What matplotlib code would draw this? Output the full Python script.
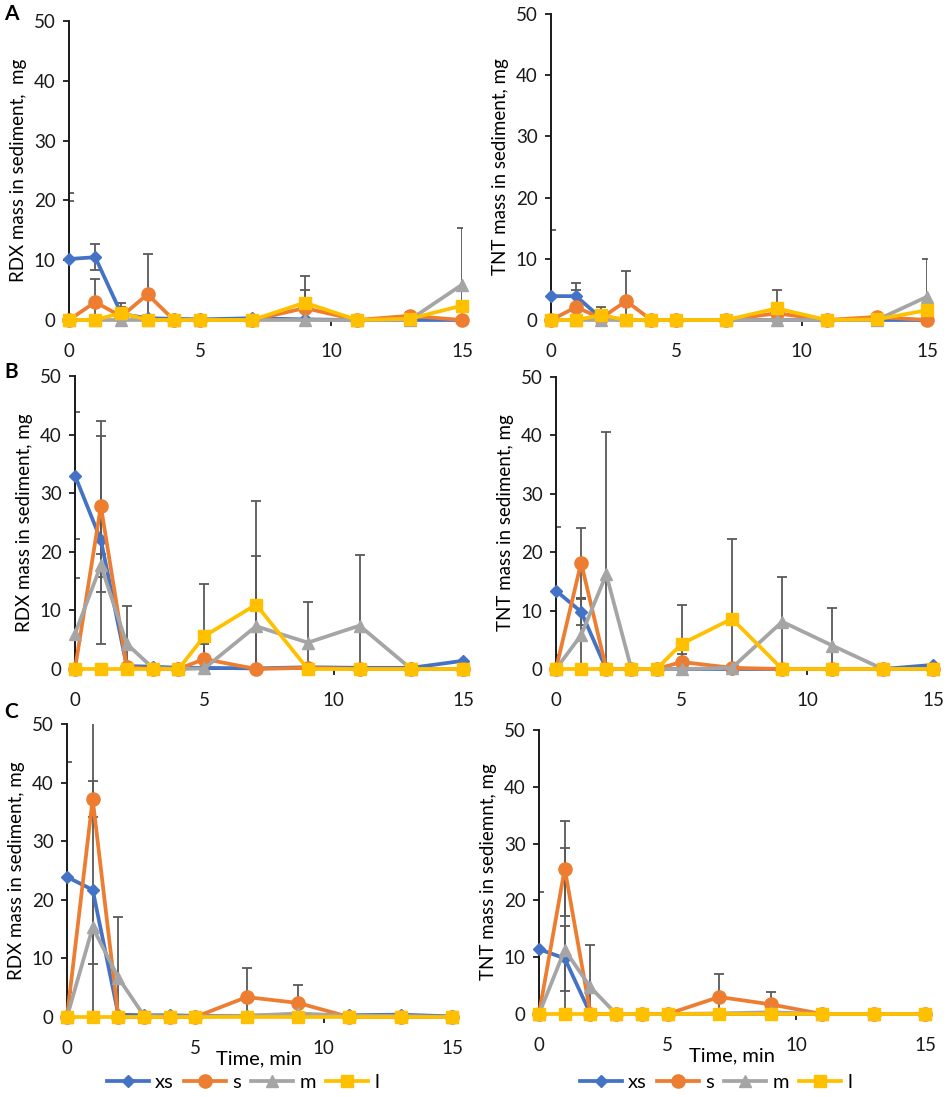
'''
Sediment mass plot

Six panels (A, B, C rows; RDX left, TNT right) with the explosive mass found
in the sediment over time for the four particle size classes xs, s, m and l.
'''

# -----------------------------------------------------------------------------
# Modules

from matplotlib import pyplot as plt
from matplotlib.lines import Line2D

# -----------------------------------------------------------------------------
# Data

time_min = [0, 1, 2, 3, 4, 5, 7, 9, 11, 13, 15]
zeros = [0] * 11

# Row A
a_rdx_xs = [10.2, 10.5, 1.0, 0.3, 0.2, 0.1, 0.3, 0.1, 0.0, 0.0, 0.0]
a_rdx_xs_err = [11.0, 2.2, 1.2, 0, 0, 0, 0.5, 0, 0, 0, 0]
a_rdx_s = [0, 3.0, 0.6, 4.3, 0, 0, 0, 2.0, 0, 0.7, 0]
a_rdx_s_err = [19.9, 3.9, 0, 6.7, 0, 0, 0, 3.0, 0, 0.6, 0]
a_rdx_m = [0, 0, 0, 0, 0, 0, 0, 0, 0, 0, 5.9]
a_rdx_m_err = [0, 0, 0, 0, 0, 0, 0, 0, 0, 0, 9.5]
a_rdx_l = [0, 0, 1.2, 0, 0, 0, 0, 2.9, 0, 0.2, 2.4]
a_rdx_l_err = [0, 0, 1.6, 0, 0, 0, 0, 4.4, 0, 0, 0]

a_tnt_xs = [3.9, 3.9, 0.3, 0, 0, 0, 0, 0, 0, 0, 0]
a_tnt_xs_err = [10.8, 2.1, 0, 0, 0, 0, 0, 0, 0, 0, 0]
a_tnt_s = [0, 2.1, 0.3, 3.1, 0, 0, 0, 1.1, 0, 0.5, 0]
a_tnt_s_err = [0, 2.8, 0, 4.9, 0, 0, 0, 0, 0, 0, 0]
a_tnt_m = [0, 0, 0, 0, 0, 0, 0, 0, 0, 0, 3.8]
a_tnt_m_err = [0, 0, 0, 0, 0, 0, 0, 0, 0, 0, 6.1]
a_tnt_l = [0, 0, 0.8, 0, 0, 0, 0, 1.9, 0, 0.1, 1.6]
a_tnt_l_err = [0, 0, 1.3, 0, 0, 0, 0, 3.0, 0, 0, 0]

# Row B
b_rdx_xs = [33.0, 22.0, 0.5, 0.4, 0.2, 0.2, 0.1, 0.3, 0.2, 0.2, 1.4]
b_rdx_xs_err = [10.9, 17.7, 0, 0, 0, 0, 0, 0, 0, 0, 0]
b_rdx_s = [0, 27.8, 0.3, 0, 0, 1.7, 0, 0.2, 0, 0, 0]
b_rdx_s_err = [0, 14.6, 0, 0, 0, 2.5, 0, 0, 0, 0, 0]
b_rdx_m = [6.0, 17.7, 4.3, 0.2, 0, 0.1, 7.3, 4.5, 7.4, 0, 0]
b_rdx_m_err = [9.5, 2.0, 6.5, 0.5, 0, 0, 11.9, 6.9, 12.0, 0, 0]
b_rdx_l = [0, 0, 0, 0, 0, 5.6, 11.0, 0, 0, 0, 0]
b_rdx_l_err = [0, 0, 0, 0, 0, 8.9, 17.6, 0, 0, 0, 0]

b_tnt_xs = [13.4, 9.8, 0, 0, 0, 0, 0, 0, 0, 0, 0.7]
b_tnt_xs_err = [11.0, 2.2, 0, 0, 0, 0, 0, 0, 0, 0, 0]
b_tnt_s = [0, 18.2, 0, 0, 0, 1.2, 0.2, 0, 0, 0, 0]
b_tnt_s_err = [0, 6.0, 0, 0, 0, 1.4, 0, 0, 0, 0, 0]
b_tnt_m = [0, 5.8, 16.2, 0, 0, 0, 0.2, 8.1, 4.0, 0, 0]
b_tnt_m_err = [0, 6.3, 24.4, 0, 0, 0, 0, 7.6, 6.4, 0, 0]
b_tnt_l = [0, 0, 0, 0, 0, 4.3, 8.6, 0, 0, 0, 0]
b_tnt_l_err = [0, 0, 0, 0, 0, 6.7, 13.7, 0, 0, 0, 0]

# Row C
c_rdx_xs = [23.9, 21.7, 0.4, 0.3, 0.3, 0.2, 0.2, 0.4, 0.3, 0.4, 0.1]
c_rdx_xs_err = [19.7, 29.0, 0, 0, 0, 0, 0, 0, 0, 0, 0]
c_rdx_s = [0, 37.2, 0, 0, 0, 0, 3.4, 2.4, 0, 0, 0]
c_rdx_s_err = [0, 3.1, 0, 0, 0, 0, 4.9, 3.1, 0, 0, 0]
c_rdx_m = [0, 15.3, 6.7, 0.2, 0.1, 0.1, 0.2, 0.6, 0.2, 0.2, 0]
c_rdx_m_err = [0, 6.3, 10.3, 0, 0, 0, 0, 0, 0, 0, 0]
c_rdx_l = zeros
c_rdx_l_err = zeros

c_tnt_xs = [11.4, 9.8, 0, 0, 0, 0, 0, 0, 0, 0, 0]
c_tnt_xs_err = [10.0, 5.7, 0, 0, 0, 0, 0, 0, 0, 0, 0]
c_tnt_s = [0, 25.6, 0, 0, 0, 0, 3.0, 1.7, 0, 0, 0]
c_tnt_s_err = [0, 8.4, 0, 0, 0, 0, 4.0, 2.2, 0, 0, 0]
c_tnt_m = [0, 11.3, 4.7, 0, 0, 0, 0.1, 0.3, 0, 0, 0]
c_tnt_m_err = [0, 17.9, 7.4, 0, 0, 0, 0, 0, 0, 0, 0]
c_tnt_l = zeros
c_tnt_l_err = zeros

size_names = ['xs', 's', 'm', 'l']
size_colors = ['#4472C4', '#ED7D31', '#A5A5A5', '#FFC000']
size_markers = ['D', 'o', '^', 's']
size_marker_sizes = [6.5, 9.5, 8.5, 9]

# -----------------------------------------------------------------------------

plt.rcParams['font.family'] = ['Lato', 'DejaVu Sans']
ERR_COLOR = '#595959'


def sediment_panel(figure, rect, series, errors, ylabel, xlabel=None):
    """
    Draw one panel with the four size classes and their error bars.
        :param figure: matplotlib figure
        :param rect: axes position [left, bottom, width, height]
        :param series: list of the four value lists (xs, s, m, l)
        :param errors: list of the four error lists
        :param ylabel: string of the y axis label
        :param xlabel: string of the x axis label or None
    """

    ax = figure.add_axes(rect)

    for values, err in zip(series, errors):
        ax.errorbar(time_min, values, yerr=err, fmt='none', ecolor=ERR_COLOR,
                    elinewidth=1.3, capsize=3.8, capthick=1.3, zorder=1)

    for values, color, marker, msize in zip(series, size_colors,
                                            size_markers, size_marker_sizes):
        ax.plot(time_min, values, color=color, marker=marker, ms=msize,
                lw=2.7, clip_on=False, zorder=3)

    ax.set_xlim(0, 15)
    ax.set_ylim(0, 50)
    ax.set_xticks([0, 5, 10, 15])
    ax.set_yticks([0, 10, 20, 30, 40, 50])
    for side in ['top', 'right']:
        ax.spines[side].set_visible(False)
    ax.spines['left'].set_color('#1a1a1a')
    ax.spines['bottom'].set_color('#404040')
    ax.spines['left'].set_linewidth(1.4)
    ax.spines['bottom'].set_linewidth(1.4)
    ax.tick_params(axis='both', labelsize=13.5, length=4.5, width=1.3,
                   colors='#1a1a1a', labelcolor='#1a1a1a')
    ax.tick_params(axis='y', pad=5)
    ax.tick_params(axis='x', pad=12)
    ax.set_ylabel(ylabel, fontsize=13.5, labelpad=5)
    if xlabel:
        ax.set_xlabel(xlabel, fontsize=14.5, labelpad=-5)

    return ax

# -----------------------------------------------------------------------------


def sediment_legend(figure, x_center, y_center):
    """
    Put the size class legend below a bottom panel.
        :param figure: matplotlib figure
        :param x_center: x of the legend center in figure fraction
        :param y_center: y of the legend center in figure fraction
    """

    handles = [Line2D([0], [0], color=c, marker=m, ms=ms, lw=2.7)
               for c, m, ms in zip(size_colors, size_markers,
                                   size_marker_sizes)]
    figure.legend(handles, size_names, loc='center',
                  bbox_to_anchor=(x_center, y_center), ncol=4,
                  frameon=False, fontsize=14.5, handlelength=2.1,
                  handletextpad=0.3, columnspacing=0.5)

    return None

# -----------------------------------------------------------------------------


def rect_px(x0, x15, y0, y50):
    """
    Axes rectangle from pixel positions of the axis ends.
    """

    W, H = 948.0, 1097.0
    return [x0 / W, 1 - y0 / H, (x15 - x0) / W, (y0 - y50) / H]

# -----------------------------------------------------------------------------


figure = plt.figure(figsize=(9.48, 10.97), dpi=100)

sediment_panel(figure, rect_px(69, 462, 320, 21),
               [a_rdx_xs, a_rdx_s, a_rdx_m, a_rdx_l],
               [a_rdx_xs_err, a_rdx_s_err, a_rdx_m_err, a_rdx_l_err],
               'RDX mass in sediment,  mg')
sediment_panel(figure, rect_px(551, 927, 320, 14),
               [a_tnt_xs, a_tnt_s, a_tnt_m, a_tnt_l],
               [a_tnt_xs_err, a_tnt_s_err, a_tnt_m_err, a_tnt_l_err],
               'TNT mass in sediment, mg')
sediment_panel(figure, rect_px(75, 463, 669, 376),
               [b_rdx_xs, b_rdx_s, b_rdx_m, b_rdx_l],
               [b_rdx_xs_err, b_rdx_s_err, b_rdx_m_err, b_rdx_l_err],
               'RDX mass in sediment, mg')
sediment_panel(figure, rect_px(556, 933, 669, 377),
               [b_tnt_xs, b_tnt_s, b_tnt_m, b_tnt_l],
               [b_tnt_xs_err, b_tnt_s_err, b_tnt_m_err, b_tnt_l_err],
               'TNT mass in sediment, mg')
sediment_panel(figure, rect_px(67, 452, 1017, 724),
               [c_rdx_xs, c_rdx_s, c_rdx_m, c_rdx_l],
               [c_rdx_xs_err, c_rdx_s_err, c_rdx_m_err, c_rdx_l_err],
               'RDX mass in sediment, mg', 'Time, min')
sediment_panel(figure, rect_px(539, 925, 1014, 730),
               [c_tnt_xs, c_tnt_s, c_tnt_m, c_tnt_l],
               [c_tnt_xs_err, c_tnt_s_err, c_tnt_m_err, c_tnt_l_err],
               'TNT mass in sediemnt, mg', 'Time, min')

sediment_legend(figure, 243 / 948.0, 1 - 1082 / 1097.0)
sediment_legend(figure, 716 / 948.0, 1 - 1082 / 1097.0)

for letter, y_px in zip(['A', 'B', 'C'], [14, 372, 712]):
    figure.text(4 / 948.0, 1 - y_px / 1097.0, letter, fontsize=15,
                fontweight='bold', va='center', ha='left')

figure.savefig('out.png', dpi=100)
